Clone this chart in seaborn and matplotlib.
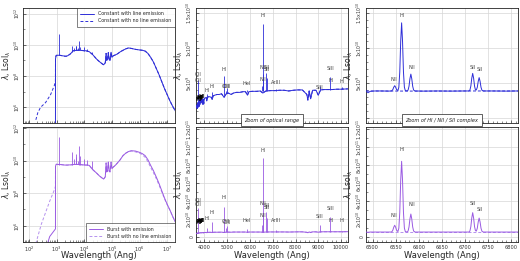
import matplotlib
matplotlib.use('Agg')
import matplotlib.pyplot as plt
import numpy as np
import seaborn as sns
from matplotlib.ticker import LogLocator, NullFormatter, MultipleLocator

# ---------------- full SED, log10 wavelength [Ang] / log10 lambda*L [Lsol] ----------------
SED_LOGW = [2.961, 2.98, 3.0, 3.05, 3.1, 3.15, 3.2, 3.25, 3.3, 3.35,
            3.4, 3.45, 3.5, 3.55, 3.6, 3.65, 3.7, 3.75, 3.8, 3.85,
            3.9, 3.95, 4.0, 4.05, 4.1, 4.18, 4.3, 4.45, 4.55, 4.65,
            4.7, 4.76, 4.79, 4.81, 4.84, 4.87, 4.9, 4.93, 4.97, 5.0,
            5.05, 5.12, 5.2, 5.3, 5.4, 5.5, 5.6, 5.7, 5.85, 6.0,
            6.1, 6.2, 6.3, 6.4, 6.5, 6.6, 6.7, 6.8, 6.9, 7.0,
            7.1, 7.2, 7.3]
CONST_LOGL = [9.1, 9.3, 9.33, 9.33, 9.33, 9.32, 9.3, 9.29, 9.27, 9.27,
              9.3, 9.36, 9.42, 9.52, 9.62, 9.63, 9.64, 9.65, 9.65, 9.65,
              9.64, 9.63, 9.62, 9.62, 9.6, 9.56, 9.38, 9.08, 8.92, 8.78,
              8.72, 8.85, 9.45, 9.0, 9.05, 9.5, 9.05, 9.0, 9.52, 9.2,
              9.3, 9.35, 9.42, 9.55, 9.65, 9.74, 9.8, 9.77, 9.71, 9.67,
              9.65, 9.6, 9.45, 9.2, 8.9, 8.5, 8.1, 7.65, 7.2, 6.8,
              6.4, 6.05, 5.75]
BURST_LOGL = [9.64, 9.76, 9.77, 9.76, 9.75, 9.75, 9.74, 9.73, 9.72, 9.72,
              9.72, 9.73, 9.73, 9.74, 9.75, 9.76, 9.76, 9.76, 9.75, 9.75,
              9.74, 9.73, 9.73, 9.72, 9.72, 9.7, 9.45, 9.22, 9.05, 8.92,
              8.86, 9.0, 9.85, 9.3, 9.35, 9.9, 9.35, 9.3, 9.9, 9.5,
              9.6, 9.7, 9.85, 10.05, 10.3, 10.45, 10.55, 10.6, 10.58, 10.5,
              10.42, 10.3, 10.05, 9.7, 9.38, 9.0, 8.6, 8.15, 7.7, 7.3,
              6.95, 6.55, 6.2]
BURST_NOLINE_LOGL = [9.64, 9.76, 9.77, 9.76, 9.75, 9.75, 9.74, 9.73, 9.72, 9.72,
                     9.72, 9.73, 9.73, 9.74, 9.75, 9.76, 9.76, 9.76, 9.75, 9.75,
                     9.74, 9.73, 9.73, 9.72, 9.72, 9.7, 9.45, 9.22, 9.05, 8.92,
                     8.86, 9.0, 9.85, 9.3, 9.35, 9.9, 9.35, 9.3, 9.9, 9.5,
                     9.6, 9.7, 9.85, 10.05, 10.3, 10.45, 10.55, 10.58, 10.53, 10.45,
                     10.35, 10.2, 9.92, 9.58, 9.25, 8.9, 8.5, 8.08, 7.65, 7.28,
                     6.93, 6.55, 6.2]

# short-ward of the Lyman edge
CONST_EDGE_LOGW = [2.959]
CONST_EDGE_LOGL = [4.5]
CONST_NOLINE_UV_LOGW = [2.25, 2.32, 2.42, 2.6, 2.78, 2.92, 2.957]
CONST_NOLINE_UV_LOGL = [5.2, 5.65, 6.0, 6.3, 6.8, 7.4, 7.7]
BURST_EDGE_LOGW = [2.6, 2.75, 2.959]
BURST_EDGE_LOGL = [4.5, 5.33, 5.8]
BURST_NOLINE_UV_LOGW = [2.25, 2.32, 2.45, 2.6, 2.75, 2.86, 2.92, 2.957]
BURST_NOLINE_UV_LOGL = [4.9, 5.33, 6.1, 6.8, 7.5, 7.95, 8.2, 8.4]

# emission line spikes on the SED
SED_LINE_LOGW = [3.085, 3.5713, 3.6375, 3.6867, 3.6996, 3.769, 3.8171, 3.828, 3.979, 4.107, 4.273]
CONST_LINE_BASE = [9.33, 9.54, 9.63, 9.64, 9.64, 9.65, 9.65, 9.65, 9.63, 9.6, 9.4]
CONST_LINE_LOGL = [10.7, 9.9, 9.8, 9.95, 9.9, 9.8, 10.26, 9.85, 9.85, 9.75, 9.55]
BURST_LINE_BASE = [9.75, 9.74, 9.76, 9.76, 9.76, 9.76, 9.75, 9.75, 9.73, 9.72, 9.5]
BURST_LINE_LOGL = [11.44, 10.54, 10.1, 10.4, 10.2, 10.0, 10.9, 10.3, 10.1, 10.05, 9.95]

# ---------------- optical range (const in 1e9, burst in 1e10 Lsol) ----------------
MID_WAVE = [3630, 3660, 3690, 3700, 3720, 3740, 3760, 3780, 3800, 3830,
            3860, 3890, 3920, 3935, 3950, 3968, 3990, 4030, 4080, 4102,
            4130, 4200, 4300, 4340, 4380, 4450, 4550, 4650, 4750, 4861,
            4950, 5050, 5170, 5270, 5400, 5550, 5700, 5800, 5890, 5950,
            6100, 6300, 6450, 6563, 6700, 6900, 7100, 7300, 7500, 7700,
            7900, 8100, 8300, 8498, 8542, 8600, 8662, 8750, 8900, 9000,
            9100, 9250, 9400, 9600, 9800, 10000, 10300]
MID_CONST = [1.5, 1.9, 1.4, 2.2, 1.6, 2.3, 1.7, 2.5, 2.0, 2.6,
             2.2, 2.7, 2.5, 2.0, 2.7, 2.1, 2.8, 2.9, 3.0, 2.5,
             3.0, 3.1, 3.0, 2.7, 3.2, 3.3, 3.4, 3.4, 3.5, 3.0,
             3.5, 3.6, 3.4, 3.6, 3.7, 3.7, 3.8, 3.8, 3.3, 3.8,
             3.85, 3.85, 3.9, 3.6, 3.9, 3.95, 3.95, 4.0, 4.0, 3.9,
             4.0, 4.05, 4.05, 3.4, 2.6, 3.9, 2.8, 4.0, 4.0, 3.3,
             4.05, 4.1, 4.1, 4.1, 4.15, 4.15, 4.2]
MID_BURST = [0.35, 0.42, 0.38, 0.45, 0.4, 0.46, 0.42, 0.47, 0.45, 0.48,
             0.46, 0.49, 0.48, 0.45, 0.5, 0.46, 0.5, 0.5, 0.51, 0.47,
             0.51, 0.52, 0.52, 0.49, 0.52, 0.53, 0.53, 0.53, 0.54, 0.5,
             0.54, 0.54, 0.53, 0.55, 0.55, 0.55, 0.55, 0.55, 0.52, 0.55,
             0.55, 0.55, 0.55, 0.53, 0.55, 0.56, 0.56, 0.56, 0.56, 0.55,
             0.56, 0.57, 0.57, 0.52, 0.48, 0.56, 0.5, 0.57, 0.57, 0.53,
             0.57, 0.58, 0.58, 0.58, 0.58, 0.58, 0.59]

MID_LINE_WAVE = [3727, 4102, 4340, 4861, 4959, 5007, 5876, 6548, 6563, 6583,
                 6717, 6731, 7136, 9069, 9532, 10049]
MID_CONST_BASE = [2.0, 2.7, 3.0, 3.3, 3.5, 3.6, 3.8, 3.9, 3.9, 3.9,
                  3.9, 3.9, 3.95, 4.0, 4.1, 4.15]
MID_CONST_PEAK = [5.5, 3.4, 3.7, 6.0, 3.9, 4.3, 4.1, 4.6, 13.4, 6.3,
                  6.4, 5.8, 4.2, 4.6, 5.9, 4.4]
MID_BURST_BASE = [0.45, 0.5, 0.5, 0.52, 0.52, 0.52, 0.55, 0.55, 0.55, 0.55,
                  0.55, 0.55, 0.55, 0.57, 0.58, 0.58]
MID_BURST_PEAK = [3.2, 1.0, 1.7, 3.3, 1.0, 1.2, 0.9, 1.3, 8.8, 2.8,
                  2.8, 2.1, 0.8, 1.3, 2.2, 0.7]

MID_LABELS = ['OII', 'OII', 'HI', 'HI', 'HI', 'OIII', 'OIII', 'HeI', 'HI', 'NII',
              'NII', 'SII', 'SII', 'ArIII', 'SIII', 'SIII', 'HI', 'HI']
MID_LABEL_WAVE = [3727, 3729, 4102, 4340, 4861, 4959, 5007, 5876, 6563, 6548,
                  6583, 6717, 6731, 7136, 9069, 9532, 9546, 10049]
MID_LABEL_Y_CONST = [6.3, 5.4, 4.0, 4.5, 7.0, 4.6, 4.5, 5.0, 14.6, 5.5,
                     7.3, 7.3, 6.9, 5.1, 4.4, 7.1, 5.4, 5.3]
MID_LABEL_Y_BURST = [4.1, 3.6, 2.1, 2.7, 4.4, 1.7, 1.6, 1.8, 9.6, 2.4,
                     3.7, 3.5, 3.3, 1.8, 2.3, 3.2, 1.8, 1.8]
BLEND_WAVE = [3750, 3771, 3798, 3835, 3889]
BLEND_Y_CONST = [2.7, 2.9, 2.8, 3.0, 3.1]
BLEND_Y_BURST = [1.6, 1.7, 1.7, 1.8, 1.8]

# ---------------- H-alpha / NII / SII complex ----------------
RIGHT_WAVE = [6486, 6490, 6495, 6505, 6520, 6535, 6540, 6542, 6544, 6546,
              6548, 6550, 6552, 6555, 6557, 6559, 6561, 6563, 6565, 6567,
              6569, 6571, 6575, 6577, 6579, 6581, 6583, 6585, 6587, 6589,
              6592, 6610, 6640, 6670, 6700, 6709, 6711, 6713, 6715, 6717,
              6719, 6721, 6723, 6725, 6727, 6729, 6731, 6733, 6735, 6737,
              6740, 6760, 6790, 6815]
RIGHT_CONST = [3.95, 3.65, 3.85, 3.9, 3.9, 3.88, 3.9, 3.94, 4.11, 4.44,
               4.65, 4.44, 4.11, 3.96, 4.44, 6.6, 10.94, 13.6, 10.94, 6.6,
               4.44, 3.96, 3.9, 4.03, 4.57, 5.64, 6.3, 5.64, 4.57, 4.03,
               3.9, 3.88, 3.9, 3.88, 3.9, 3.9, 4.04, 4.6, 5.72, 6.4,
               5.72, 4.6, 4.05, 4.05, 4.43, 5.28, 5.8, 5.28, 4.43, 4.01,
               3.9, 3.9, 3.88, 3.9]
RIGHT_BURST = [0.55, 0.52, 0.55, 0.55, 0.55, 0.55, 0.55, 0.59, 0.76, 1.09,
               1.3, 1.09, 0.76, 0.6, 0.99, 2.73, 6.25, 8.4, 6.25, 2.73,
               0.99, 0.6, 0.55, 0.66, 1.11, 2.0, 2.55, 2.0, 1.11, 0.66,
               0.55, 0.55, 0.55, 0.55, 0.55, 0.55, 0.67, 1.15, 2.11, 2.7,
               2.11, 1.15, 0.7, 0.66, 0.98, 1.68, 2.1, 1.68, 0.98, 0.64,
               0.55, 0.55, 0.55, 0.55]
RIGHT_CONT_WAVE = [6486, 6600, 6700, 6815]
RIGHT_CONT_CONST = [3.9, 3.88, 3.9, 3.9]
RIGHT_CONT_BURST = [0.55, 0.55, 0.55, 0.55]
RIGHT_LABELS = ['NII', 'HI', 'NII', 'SII', 'SII']
RIGHT_LABEL_WAVE = [6546, 6564, 6585, 6717, 6733]
RIGHT_LABEL_Y_CONST = [5.6, 14.6, 7.3, 7.3, 6.9]
RIGHT_LABEL_Y_BURST = [2.4, 9.7, 3.6, 3.7, 3.1]

CONST_COLOR = '#2e2ed8'
BURST_COLOR = '#9a5ae2'
BURST_DASH = '#b592ee'
TXT = '#444444'

sns.set_theme(style='whitegrid')
plt.rcParams.update({
    'font.family': ['DejaVu Sans'],
    'axes.edgecolor': '#222222',
    'axes.linewidth': 0.6,
    'grid.color': '#d6d6d6',
    'grid.linewidth': 0.5,
    'xtick.direction': 'in', 'ytick.direction': 'in',
    'xtick.bottom': True, 'ytick.left': True,
    'xtick.major.size': 2.5, 'ytick.major.size': 2.5,
    'xtick.minor.size': 1.2, 'ytick.minor.size': 1.2,
    'xtick.major.width': 0.5, 'ytick.major.width': 0.5,
    'xtick.minor.width': 0.4, 'ytick.minor.width': 0.4,
    'xtick.labelsize': 3.6, 'ytick.labelsize': 3.3,
    'xtick.major.pad': 2, 'ytick.major.pad': 1.2,
    'xtick.color': '#333333', 'ytick.color': '#333333',
    'axes.labelsize': 5.5, 'axes.labelcolor': '#222222',
})

fig = plt.figure(figsize=(5.2, 2.61), dpi=100)
COL_X = [0.045, 0.377, 0.704]
COL_W = [0.291, 0.292, 0.292]
ROW_Y = [0.529, 0.073]
ROW_H = 0.44
axes = [[fig.add_axes([COL_X[c], ROW_Y[r], COL_W[c], ROW_H]) for c in range(3)] for r in range(2)]

YLABEL = r'$\lambda$, Lsol$_\lambda$'


def rotate_yticks(ax):
    for lab in ax.get_yticklabels():
        lab.set_rotation(90)
        lab.set_va('center')


def p10(a):
    return 10 ** np.asarray(a)


# ---- left column: full SED ----
sed_setup = [
    (axes[0][0], CONST_COLOR, CONST_COLOR, CONST_EDGE_LOGW, CONST_EDGE_LOGL, CONST_LOGL,
     CONST_NOLINE_UV_LOGW, CONST_NOLINE_UV_LOGL, CONST_LOGL, CONST_LINE_BASE, CONST_LINE_LOGL,
     'Constant with line emission', 'Constant with no line emission', (10 ** 5.4, 10 ** 12.35), 'upper right'),
    (axes[1][0], BURST_COLOR, BURST_DASH, BURST_EDGE_LOGW, BURST_EDGE_LOGL, BURST_LOGL,
     BURST_NOLINE_UV_LOGW, BURST_NOLINE_UV_LOGL, BURST_NOLINE_LOGL, BURST_LINE_BASE, BURST_LINE_LOGL,
     'Burst with emission', 'Burst with no line emission', (10 ** 5.27, 10 ** 12.05), 'lower right'),
]
for (ax, col, dcol, ew, el, cont, uw, ul, nocont, lbase, lpeak, lab1, lab2, ylim, loc) in sed_setup:
    ax.set_xscale('log')
    ax.set_yscale('log')
    sns.lineplot(x=p10(uw + SED_LOGW), y=p10(ul + nocont), ax=ax, color=dcol, lw=0.7,
                 linestyle=(0, (3, 2)), estimator=None, sort=False, label=lab2, zorder=2)
    sns.lineplot(x=p10(ew + SED_LOGW), y=p10(el + cont), ax=ax, color=col, lw=0.7,
                 estimator=None, sort=False, label=lab1, zorder=3)
    ax.vlines(p10(SED_LINE_LOGW), p10(lbase), p10(lpeak), color=col, lw=0.6, zorder=3)
    ax.set_xlim(10 ** 1.8, 10 ** 7.27)
    ax.set_ylim(*ylim)
    ax.set_xticks([1e2, 1e3, 1e4, 1e5, 1e6, 1e7])
    ax.set_xticklabels([r'$10^{%d}$' % k for k in range(2, 8)])
    ax.xaxis.set_minor_locator(LogLocator(base=10, subs=np.arange(2, 10), numticks=20))
    ax.xaxis.set_minor_formatter(NullFormatter())
    ax.set_yticks([1e6, 1e8, 1e10, 1e12])
    ax.set_yticklabels([r'$10^{%d}$' % k for k in (6, 8, 10, 12)])
    ax.set_yticks([1e5, 1e7, 1e9, 1e11], minor=True)
    ax.yaxis.set_minor_formatter(NullFormatter())
    rotate_yticks(ax)
    ax.set_ylabel(YLABEL)
    handles, labels = ax.get_legend_handles_labels()
    order = [labels.index(lab1), labels.index(lab2)]
    leg = ax.legend([handles[i] for i in order], [labels[i] for i in order], loc=loc,
                    fontsize=3.4, frameon=True, fancybox=False, borderaxespad=0,
                    handlelength=3.0, borderpad=0.7, labelspacing=0.4, handletextpad=0.8)
    leg.get_frame().set_edgecolor('#222222')
    leg.get_frame().set_linewidth(0.5)


# ---- middle and right columns ----
def style_linear(ax, top):
    if top:
        ax.set_ylim(-0.65e9, 15.7e9)
        ax.set_yticks([0, 5e9, 1e10, 1.5e10])
        ax.set_yticklabels(['', r'5x10$^{9}$', r'1x10$^{10}$', r'1.5x10$^{10}$'])
        ax.yaxis.set_minor_locator(MultipleLocator(1e9))
    else:
        ax.set_ylim(-0.55e10, 12.2e10)
        ax.set_yticks([0, 2e10, 4e10, 6e10, 8e10, 1e11, 1.2e11])
        ax.set_yticklabels(['0', r'2x10$^{10}$', r'4x10$^{10}$', r'6x10$^{10}$',
                            r'8x10$^{10}$', r'1x10$^{11}$', r'1.2x10$^{11}$'])
        ax.yaxis.set_minor_locator(MultipleLocator(1e10))
    rotate_yticks(ax)
    ax.set_ylabel(YLABEL)


for r, (scale, col, dcol, cont, base, peak, ly, by) in enumerate([
        (1e9, CONST_COLOR, CONST_COLOR, MID_CONST, MID_CONST_BASE, MID_CONST_PEAK, MID_LABEL_Y_CONST, BLEND_Y_CONST),
        (1e10, BURST_COLOR, BURST_DASH, MID_BURST, MID_BURST_BASE, MID_BURST_PEAK, MID_LABEL_Y_BURST, BLEND_Y_BURST)]):
    ax = axes[r][1]
    sns.lineplot(x=MID_WAVE, y=np.array(cont) * scale, ax=ax, color=dcol, lw=0.7,
                 linestyle=(0, (3, 2)), estimator=None, sort=False, zorder=2)
    sns.lineplot(x=MID_WAVE, y=np.array(cont) * scale, ax=ax, color=col, lw=0.7,
                 estimator=None, sort=False, zorder=3)
    ax.vlines(MID_LINE_WAVE, np.array(base) * scale, np.array(peak) * scale, color=col, lw=0.6, zorder=3)
    for s, w, y in zip(MID_LABELS, MID_LABEL_WAVE, ly):
        ax.text(w, y * scale, s, fontsize=3.6, color=TXT, ha='center', va='center', zorder=4)
    for w, y in zip(BLEND_WAVE, by):
        ax.text(w, y * scale, 'HI', fontsize=3.6, color='black', fontweight='bold',
                ha='center', va='center', zorder=4)
    ax.set_xlim(3630, 10300)
    ax.set_xticks(range(4000, 10001, 1000))
    ax.xaxis.set_minor_locator(MultipleLocator(200))
    style_linear(ax, r == 0)

for r, (scale, col, dcol, vals, cvals, ly) in enumerate([
        (1e9, CONST_COLOR, CONST_COLOR, RIGHT_CONST, RIGHT_CONT_CONST, RIGHT_LABEL_Y_CONST),
        (1e10, BURST_COLOR, BURST_DASH, RIGHT_BURST, RIGHT_CONT_BURST, RIGHT_LABEL_Y_BURST)]):
    ax = axes[r][2]
    sns.lineplot(x=RIGHT_CONT_WAVE, y=np.array(cvals) * scale, ax=ax, color=dcol, lw=0.7,
                 linestyle=(0, (3, 2)), estimator=None, sort=False, zorder=2)
    sns.lineplot(x=RIGHT_WAVE, y=np.array(vals) * scale, ax=ax, color=col, lw=0.7,
                 estimator=None, sort=False, zorder=3)
    for s, w, y in zip(RIGHT_LABELS, RIGHT_LABEL_WAVE, ly):
        ax.text(w, y * scale, s, fontsize=3.6, color=TXT, ha='center', va='center', zorder=4)
    ax.set_xlim(6486, 6815)
    ax.set_xticks(range(6500, 6801, 50))
    ax.xaxis.set_minor_locator(MultipleLocator(10))
    style_linear(ax, r == 0)

# captions on the top zoom panels
for ax, txt in [(axes[0][1], 'Zoom of optical range'), (axes[0][2], 'Zoom of HI / NII / SII complex')]:
    ax.text(0.5, 0.0, txt, transform=ax.transAxes, ha='center', va='bottom', fontsize=3.6,
            style='italic', color='#222222', zorder=5,
            bbox=dict(boxstyle='square,pad=0.7', fc='white', ec='#222222', lw=0.5))

for c in range(3):
    axes[0][c].tick_params(axis='x', labelbottom=False)
    axes[0][c].set_xlabel('')
    axes[1][c].set_xlabel('Wavelength (Ang)', fontsize=6)
    axes[1][c].xaxis.set_label_coords(0.5, -0.075)
    for r in range(2):
        axes[r][c].yaxis.set_label_coords(-0.068 if c == 0 else -0.075, 0.5)
        axes[r][c].grid(True, which='major')
        axes[r][c].grid(False, which='minor')

fig.savefig('out.png', dpi=100)
